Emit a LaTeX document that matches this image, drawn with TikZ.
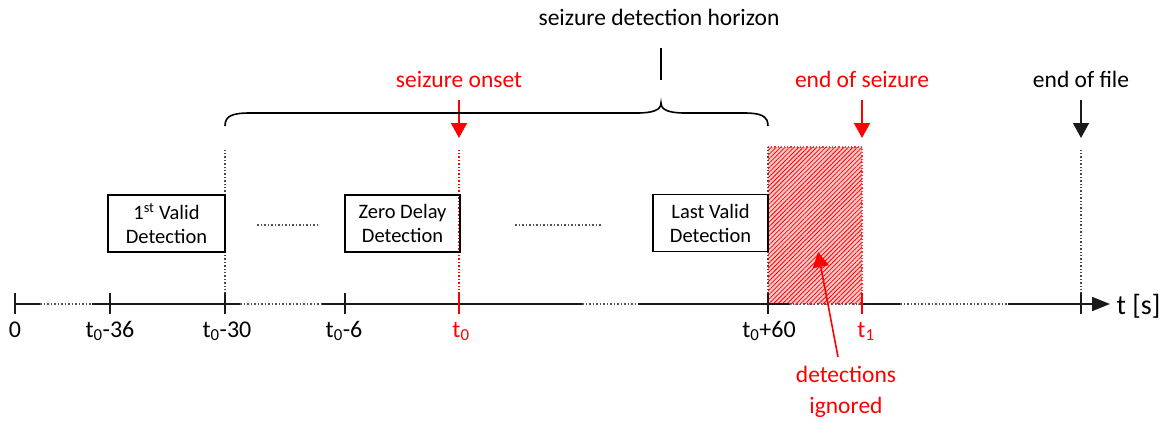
\documentclass[tikz,border=0pt]{standalone}
\usepackage{fontspec}
\setmainfont{Carlito}
\usetikzlibrary{arrows.meta, positioning, calc, patterns.meta}
\definecolor{onsetRed}{HTML}{FF0000}
\definecolor{axisBlack}{HTML}{1A1A1A}

\begin{document}
\begin{tikzpicture}[x=1pt, y=-1pt,
    axisline/.style={line width=1.8pt, axisBlack},
    gapline/.style={line width=1.5pt, dotted, axisBlack!75},
    tickmark/.style={line width=1.6pt, axisBlack},
    guide/.style={line width=1.4pt, dotted, axisBlack!80},
    marker/.style={line width=1.6pt, -{Triangle[width=16pt,length=15pt]}},
    detbox/.style={draw, line width=1.6pt, minimum height=57pt, align=center,
        font=\fontsize{20.5}{24}\selectfont, inner sep=0pt},
    lbl/.style={font=\fontsize{23.5}{31}\selectfont},
    ticklbl/.style={font=\fontsize{24}{28}\selectfont, anchor=base}
]
    \useasboundingbox (0,0) rectangle (1167,421);

    % time points on the axis
    \coordinate (zero) at (15,304);
    \coordinate (m36) at (110,304);
    \coordinate (m30) at (225,304);
    \coordinate (m6) at (345,304);
    \coordinate (onset) at (459,304);
    \coordinate (p60) at (768,304);
    \coordinate (tend) at (862,304);
    \coordinate (eof) at (1081,304);
    \coordinate (tip) at (1110,304);

    % ignored detections (hatched)
    \fill[onsetRed!22] (768,147) rectangle (862,304);
    \fill[pattern={Lines[angle=45, distance=3.2pt, line width=0.8pt]}, pattern color=onsetRed]
        (768,147) rectangle (862,304);
    \draw[line width=1.2pt, dotted, onsetRed!80] (768,147) -- (862,147) -- (tend);

    % vertical guides
    \draw[guide] (m30) -- ++(0,-156);
    \draw[guide, onsetRed] (onset) -- ++(0,-156);
    \draw[guide] (p60) -- ++(0,-157);
    \draw[guide] (eof) -- ++(0,-156);

    % time axis, solid and broken parts
    \draw[axisline] (zero) -- (40,304);
    \draw[gapline] (40,304) -- (92,304);
    \draw[axisline] (92,304) -- (240,304);
    \draw[gapline] (240,304) -- (322,304);
    \draw[axisline] (322,304) -- (582,304);
    \draw[gapline] (582,304) -- (638,304);
    \draw[axisline] (638,304) -- (789,304);
    \draw[gapline] (789,304) -- (tend);
    \draw[axisline] (tend) -- (900,304);
    \draw[gapline] (900,304) -- (1008,304);
    \draw[axisline, -{Triangle[width=14pt,length=18pt]}] (1008,304) -- (tip);

    % ticks
    \foreach \pt in {zero, m36, m30, m6, p60, eof}
        \draw[tickmark] ($(\pt)+(0,-11)$) -- ($(\pt)+(0,10)$);
    \foreach \pt in {onset, tend}
        \draw[tickmark, onsetRed] ($(\pt)+(0,-11)$) -- ($(\pt)+(0,10)$);

    % tick labels
    \node[ticklbl] (lzero) at (15,337) {0};
    \node[ticklbl] (lm36) at (110,337) {t\textsubscript{0}-36};
    \node[ticklbl] (lm30) at (227,337) {t\textsubscript{0}-30};
    \node[ticklbl] (lm6) at (344,337) {t\textsubscript{0}-6};
    \node[ticklbl, text=onsetRed] (lonset) at (461,337) {t\textsubscript{0}};
    \node[ticklbl] (lp60) at (769,337) {t\textsubscript{0}+60};
    \node[ticklbl, text=onsetRed] (ltend) at (866,337) {t\textsubscript{1}};
    \node[anchor=base west, font=\fontsize{28}{30}\selectfont] (unit) at (1113,314) {t [s]};

    % detection boxes
    \node[detbox, minimum width=117pt] (first) at (166.5,223.5) {1\textsuperscript{st} Valid\\Detection};
    \node[detbox, minimum width=115pt] (zerodelay) at (402.5,223.5) {Zero Delay\\Detection};
    \node[detbox, minimum width=115pt] (last) at (710.5,223) {Last Valid\\Detection};
    \draw[gapline, line width=1.3pt] (257,225) -- (318,225);
    \draw[gapline, line width=1.3pt] (515,225) -- (602,225);

    % event markers
    \node[lbl, anchor=base, text=onsetRed] (onsetlbl) at (459,87) {seizure onset};
    \node[lbl, anchor=base, text=onsetRed] (endlbl) at (862,87) {end of seizure};
    \node[lbl, anchor=base] (eoflbl) at (1081,87) {end of file};
    \coordinate (onsettop) at (459,138);
    \coordinate (endtop) at (862,138);
    \coordinate (eoftop) at (1081,138);
    \draw[marker, onsetRed] ($(onsettop)+(0,-38)$) -- (onsettop);
    \draw[marker, onsetRed] ($(endtop)+(0,-38)$) -- (endtop);
    \draw[marker, axisBlack] ($(eoftop)+(0,-38)$) -- (eoftop);

    % detection horizon brace
    \draw[line width=1.6pt] (225,126) .. controls (225,116) and (232,113) .. (250,113)
        -- (637,113) .. controls (653,113) and (661,110) .. (661,103)
        .. controls (661,110) and (669,113) .. (685,113)
        -- (744,113) .. controls (761,113) and (768,116) .. (768,126);
    \coordinate (bracetop) at (661,48);
    \draw[line width=1.6pt] (bracetop) -- ++(0,32);
    \node[lbl, anchor=base] (horizon) at (659,25) {seizure detection horizon};

    % ignored detections label
    \node[lbl, text=onsetRed, align=center, anchor=north] (ignored) at (846,363) {detections\\ignored};
    \coordinate (hatchpt) at (818,252);
    \draw[marker, onsetRed] ($(ignored.north)+(-8,-6)$) -- (hatchpt);
\end{tikzpicture}
\end{document}
